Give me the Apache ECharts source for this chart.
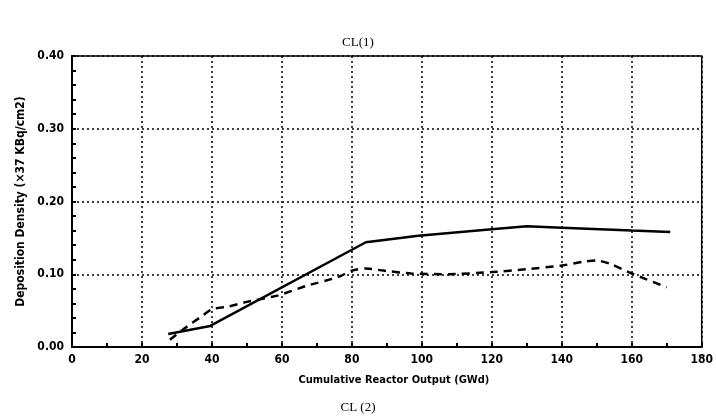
<!DOCTYPE html>
<html>
<head>
<meta charset="utf-8">
<script src="https://cdn.jsdelivr.net/npm/echarts@6/dist/echarts.min.js"></script>
<style>
  html, body { margin: 0; padding: 0; background: #fff; }
  #chart { width: 716px; height: 420px; }
</style>
</head>
<body>
<div id="chart"></div>
<script>
// values
const solidLine = [
  [27.5, 0.018], [39.5, 0.029], [84, 0.144], [99, 0.153], [120, 0.162],
  [130, 0.166], [140, 0.164], [160, 0.160], [171, 0.158]
];
const dashedLine = [
  [28, 0.010], [32, 0.025], [37, 0.042], [40, 0.052], [45, 0.056], [50, 0.062],
  [59, 0.071], [67, 0.084], [76, 0.096], [80, 0.105], [84, 0.108], [89, 0.105],
  [97, 0.101], [108, 0.100], [120, 0.103], [130, 0.107], [140, 0.112],
  [146, 0.117], [150, 0.119], [154, 0.114], [160, 0.101], [170, 0.082]
];
const topTitle = 'CL(1)';
const bottomTitle = 'CL (2)';
const xName = 'Cumulative Reactor Output (GWd)';
const yName = 'Deposition Density (×37 KBq/cm2)';

const labelFont = {
  color: '#000',
  fontFamily: '"DejaVu Sans Condensed", "Liberation Sans Narrow", sans-serif',
  fontWeight: 'bold',
  fontSize: 12
};
const titleFont = {
  fontFamily: '"Liberation Serif", serif', fontSize: 13, fontWeight: 'normal', color: '#000'
};

const chart = echarts.init(document.getElementById('chart'));
chart.setOption({
  animation: false,
  backgroundColor: '#fff',
  title: [
    { text: topTitle, left: 'center', top: 31, textStyle: titleFont },
    { text: bottomTitle, left: 'center', top: 396, textStyle: titleFont }
  ],
  grid: {
    left: 72, right: 14, top: 56, bottom: 73,
    show: true, borderColor: '#000', borderWidth: 1.5
  },
  xAxis: {
    type: 'value', min: 0, max: 180, interval: 20,
    name: xName, nameLocation: 'middle', nameGap: 28,
    nameTextStyle: Object.assign({}, labelFont, { fontSize: 11, padding: [0, 0, 0, 14] }),
    axisLine: { show: true, lineStyle: { color: '#000', width: 2 } },
    axisTick: { show: true, inside: true, length: 4, lineStyle: { color: '#000', width: 2 } },
    minorTick: { show: true, splitNumber: 2, length: 4, lineStyle: { color: '#000', width: 2 } },
    axisLabel: Object.assign({ margin: 7 }, labelFont),
    splitLine: { show: true, lineStyle: { color: '#000', type: [2, 3], width: 1.5 } }
  },
  yAxis: {
    type: 'value', min: 0, max: 0.4, interval: 0.1,
    name: yName, nameLocation: 'middle', nameGap: 30, nameRotate: 90,
    nameTextStyle: Object.assign({}, labelFont, { fontSize: 12 }),
    axisLine: { show: true, lineStyle: { color: '#000', width: 2 } },
    axisTick: { show: true, inside: true, length: 4, lineStyle: { color: '#000', width: 2 } },
    minorTick: { show: true, splitNumber: 5, length: 4, lineStyle: { color: '#000', width: 2 } },
    axisLabel: Object.assign({ margin: 8, formatter: v => v.toFixed(2) }, labelFont),
    splitLine: { show: true, lineStyle: { color: '#000', type: [2, 3], width: 1.5 } }
  },
  series: [
    {
      type: 'line', data: solidLine, symbol: 'none',
      lineStyle: { color: '#000', width: 2.5 }
    },
    {
      type: 'line', data: dashedLine, symbol: 'none', smooth: 0.2,
      lineStyle: { color: '#000', width: 2.5, type: [8, 6] }
    }
  ]
});
</script>
</body>
</html>
